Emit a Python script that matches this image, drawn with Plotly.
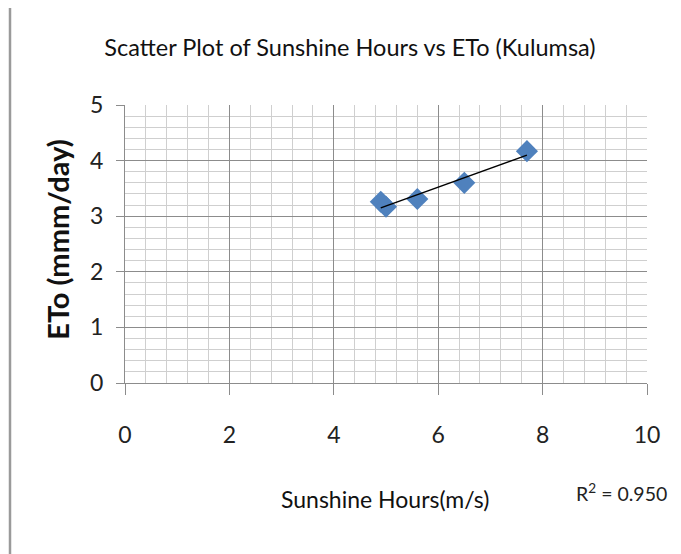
import numpy as np
import plotly.graph_objects as go

sunshine_hours = [4.9, 5.0, 5.6, 6.5, 7.7]
eto_values = [3.26, 3.17, 3.31, 3.60, 4.17]
x_ticks = [0, 2, 4, 6, 8, 10]
y_ticks = [0, 1, 2, 3, 4, 5]
r2_text = "R<sup>2</sup> = 0.950"

FONT = "Lato"
OFF = 8  # page body margin offset
W, H = 681 - OFF, 554 - OFF
L = 125 - OFF
T = 105 - OFF
R = W - (647 - OFF)
B = H - (383.5 - OFF)
pw = W - L - R
ph = H - T - B

slope, intercept = np.polyfit(sunshine_hours, eto_values, 1)
fit_x = [min(sunshine_hours), max(sunshine_hours)]
fit_y = [slope * v + intercept for v in fit_x]

fig = go.Figure()
fig.add_trace(go.Scatter(
    x=sunshine_hours, y=eto_values, mode="markers",
    marker=dict(symbol="diamond", size=17, color="#4f81bd"),
    showlegend=False,
))
fig.add_trace(go.Scatter(
    x=fit_x, y=fit_y, mode="lines",
    line=dict(color="black", width=1.5),
    showlegend=False,
))

# convert reference-image pixel positions to paper coordinates
def px_x(p):
    return (p - OFF - L) / pw

def px_y(p):
    return (H - B - (p - OFF)) / ph

fig.update_layout(
    width=W, height=H,
    margin=dict(l=L, r=R, t=T, b=B),
    paper_bgcolor="white", plot_bgcolor="white",
    font=dict(family=FONT, color="#222", size=20),
    title=dict(text="Scatter Plot of Sunshine Hours vs ETo (Kulumsa)",
               x=(350 - OFF) / W, xanchor="center", y=1 - (48 - OFF) / H, yanchor="middle",
               font=dict(family=FONT, size=23.5, color="#111")),
    xaxis=dict(range=[0, 10], tickvals=x_ticks, ticktext=[str(v) for v in x_ticks],
               showgrid=True, gridcolor="#8c8c8c", gridwidth=1,
               minor=dict(dtick=0.4, showgrid=True, gridcolor="#cfcfcf", gridwidth=1, ticks=""),
               showline=True, linecolor="#8c8c8c", linewidth=1,
               ticks="outside", ticklen=11, tickcolor="#8c8c8c",
               ticklabelstandoff=20, zeroline=False,
               tickfont=dict(size=23, color="#222")),
    yaxis=dict(range=[0, 5], tickvals=y_ticks, ticktext=[str(v) for v in y_ticks],
               showgrid=True, gridcolor="#8c8c8c", gridwidth=1,
               minor=dict(dtick=0.2, showgrid=True, gridcolor="#cfcfcf", gridwidth=1, ticks=""),
               showline=True, linecolor="#8c8c8c", linewidth=1,
               ticks="outside", ticklen=8, tickcolor="#8c8c8c",
               ticklabelstandoff=8, zeroline=False,
               tickfont=dict(size=23, color="#222")),
    annotations=[
        dict(text="Sunshine Hours(m/s)", xref="paper", yref="paper",
             x=px_x(385), y=px_y(500), xanchor="center", yanchor="middle",
             showarrow=False, font=dict(family=FONT, size=23, color="#111")),
        dict(text="<b>ETo (mmm/day)</b>", xref="paper", yref="paper",
             x=px_x(58), y=px_y(240), xanchor="center", yanchor="middle",
             textangle=-90, showarrow=False,
             font=dict(family=FONT, size=29, color="#111")),
        dict(text=r2_text, xref="paper", yref="paper",
             x=px_x(669), y=px_y(493), xanchor="right", yanchor="middle",
             showarrow=False, font=dict(family=FONT, size=19.5, color="#222")),
    ],
    shapes=[
        dict(type="line", xref="paper", yref="paper",
             x0=px_x(10), x1=px_x(10), y0=px_y(560), y1=px_y(0),
             line=dict(color="#9a9a9a", width=2.5)),
    ],
)

fig.write_html("out.html")
